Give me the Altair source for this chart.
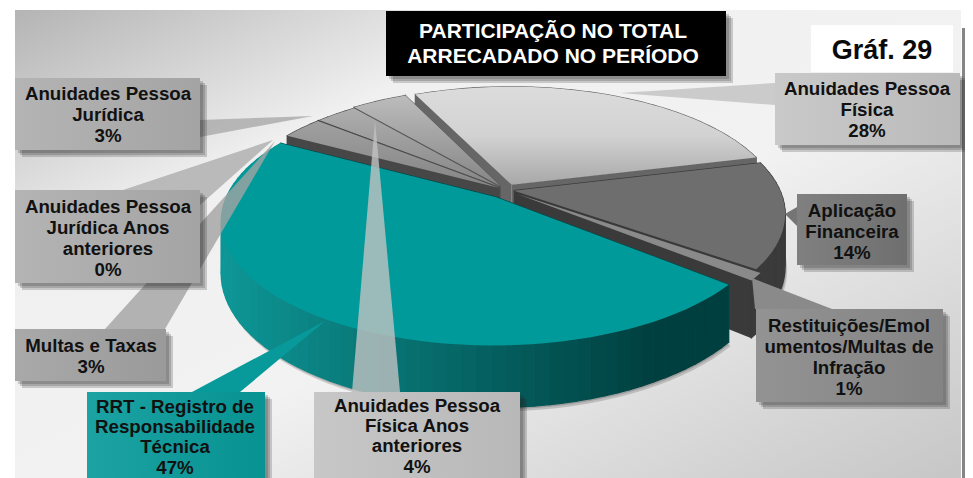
import math
import altair as alt

# ---------- chart values ----------
categories = ["Anuidades Pessoa Física", "Aplicação Financeira",
              "Restituições/Emolumentos/Multas de Infração",
              "RRT - Registro de Responsabilidade Técnica", "Multas e Taxas",
              "Anuidades Pessoa Jurídica Anos anteriores",
              "Anuidades Pessoa Jurídica", "Anuidades Pessoa Física Anos anteriores"]
shares = [28, 14, 1, 47, 3, 0, 3, 4]
label_lines = [["Anuidades Pessoa", "Física"], ["Aplicação", "Financeira"],
               ["Restituições/Emol", "umentos/Multas de", "Infração"],
               ["RRT - Registro de", "Responsabilidade", "Técnica"], ["Multas e Taxas"],
               ["Anuidades Pessoa", "Jurídica Anos", "anteriores"],
               ["Anuidades Pessoa", "Jurídica"], ["Anuidades Pessoa", "Física Anos", "anteriores"]]
title_lines = ["PARTICIPAÇÃO  NO TOTAL", "ARRECADADO  NO PERÍODO"]
badge = "Gráf. 29"

# ---------- pie styling ----------
START = 335
CX, CY, RX, RY, K, DEPTH = 506, 190, 266, 118, 0.186, 50
explode = [.05, .03, .05, .07, .03, .03, .03, .04]
top_fill = ["#d4d4d4", "#6e6e6e", "#8a8a8a", "#009a9a", "#a0a0a0", "#949494", "#aeaeae", "#bcbcbc"]
wall_fill = ["#666666", "#3a3a3a", "#3a3a3a", "#004a4a", "#474747", "#555555", "#555555", "#5a5a5a"]
draw_order = [0, 7, 6, 5, 4, 1, 2, 3]

# ---------- annotation layout (x0, x1, y0, y1, fill, text x, first line y, line step) ----------
W_, H_ = 965, 478
boxes = [
    (775, 960, 73, 145, "#c4c4c4", 867, 89, 21), (797, 907, 194, 265, "#757575", 852, 211, 21),
    (756, 943, 309, 402, "#8a8a8a", 849, 326, 21), (87, 265, 392, 478, "#089a9a", 175, 407, 20.2),
    (15, 166, 329, 381, "#a2a2a2", 91, 346, 21), (15, 200, 190, 283, "#adadad", 108, 207, 21),
    (15, 200, 78, 150, "#adadad", 108, 94, 21), (314, 520, 392, 478, "#c2c2c2", 417, 406, 20.2),
]
leaders = [
    [(775, 83), (620, 93), (775, 105)], [(797, 207), (785, 214), (797, 226)],
    [(755, 309), (752, 278), (832, 309)], [(192, 392), (325, 321), (240, 392)],
    [(105, 329), (275, 141), (165, 329)], [(123, 190), (273, 140), (200, 205)],
    [(200, 120), (313, 116), (200, 137)], [(352, 392), (375, 121), (400, 392)],
]
wedge_opacity = [.85, 1, 1, 1, .8, .8, .85, .8]
paint_order = [0, 1, 2, 3, 4, 5, 6, 7]

X = alt.Scale(domain=[8, W_], range=[0, W_ - 8])
Y = alt.Scale(domain=[8, H_], range=[0, H_ - 8])


def proj(theta, r, ex=0.0, ey=0.0, z=0.0):
    t = math.radians(theta)
    u, v = r * math.sin(t) + ex, r * math.cos(t) + ey
    w = 1 + K * v
    return CX + RX * u / w, CY - RY * v / w + z * DEPTH / w


def mix(a, b, f):
    pa = [int(a[i:i + 2], 16) for i in (1, 3, 5)]
    pb = [int(b[i:i + 2], 16) for i in (1, 3, 5)]
    return "#" + "".join(f"{round(p + (q - p) * f):02x}" for p, q in zip(pa, pb))


def rows(pid, pts, color=None):
    return [{"id": pid, "i": i, "x": p[0], "y": min(p[1], H_), "c": color} for i, p in enumerate(pts)]


def poly(data, **mk):
    return alt.Chart(alt.Data(values=data)).mark_line(strokeWidth=0, **mk).encode(
        x=alt.X("x:Q", scale=X, axis=None), y=alt.Y("y:Q", scale=Y, axis=None),
        order="i:Q", detail="id:N")


def multi(data):
    return alt.Chart(alt.Data(values=data)).mark_line(strokeWidth=1.2).encode(
        x=alt.X("x:Q", scale=X, axis=None), y=alt.Y("y:Q", scale=Y, axis=None),
        order="i:Q", detail="id:N",
        fill=alt.Fill("c:N", scale=None), stroke=alt.Stroke("c:N", scale=None))


def rect(x0, x1, y0, y1, fill, opacity=1.0):
    d = [{"x": x0, "x2": x1, "y": y0, "y2": min(y1, H_)}]
    return alt.Chart(alt.Data(values=d)).mark_rect(fill=fill, opacity=opacity).encode(
        x=alt.X("x:Q", scale=X, axis=None), x2="x2:Q",
        y=alt.Y("y:Q", scale=Y, axis=None), y2="y2:Q")


def text(s, x, y, size, color="#111111"):
    d = [{"t": s, "x": x, "y": y}]
    return alt.Chart(alt.Data(values=d)).mark_text(
        font="Liberation Sans", fontWeight="bold", fontSize=size, color=color, baseline="middle",
        align="center").encode(x=alt.X("x:Q", scale=X, axis=None), y=alt.Y("y:Q", scale=Y, axis=None), text="t:N")


def grad(stops, x1=0, y1=0, x2=0, y2=1):
    return alt.LinearGradient(gradient="linear", x1=x1, y1=y1, x2=x2, y2=y2,
                              stops=[alt.GradientStop(offset=o, color=c) for o, c in stops])


layers = []
# frame and panel
layers.append(rect(962, 973, 28, 478, "#858585"))
layers.append(rect(15, 961, 10, 478, grad(
    [(0, "#b4b4b4"), (.28, "#f0f0f0"), (.55, "#f2f2f2"), (1, "#c6c6c6")], x2=1, y2=1)))

# slice angles
angles, a = [], START
for s in shares:
    angles.append((a, a + s * 3.6))
    a += s * 3.6

# soft shadow below the front slices
for n in (1, 3):
    a0, a1 = angles[n]
    mid = math.radians((a0 + a1) / 2)
    ex, ey = explode[n] * math.sin(mid), explode[n] * math.cos(mid)
    for off in (2, 4):
        pts = [proj(a0 + (a1 - a0) * j / 60, 1, ex, ey, 1) for j in range(61)]
        pts = [(p[0] + off / 2, p[1] + off) for p in pts] + [proj(a0, 0, ex, ey, 0)]
        layers.append(poly(rows(f"s{n}{off}", pts), fill="#000000", opacity=.16))

for n in draw_order:
    a0, a1 = angles[n]
    mid = math.radians((a0 + a1) / 2)
    ex, ey = explode[n] * math.sin(mid), explode[n] * math.cos(mid)
    data = []
    apex, apex_low = proj(a0, 0, ex, ey, 0), proj(a0, 0, ex, ey, 1)
    for tag, ang in (("a", a0), ("b", a1)):
        pts = [apex, proj(ang, 1, ex, ey, 0), proj(ang, 1, ex, ey, 1), apex_low]
        data += rows(f"w{n}{tag}", pts, wall_fill[n])
    steps = max(2, int((a1 - a0) / 2.5))
    for j in range(steps):
        t0 = a0 + (a1 - a0) * j / steps
        t1 = a0 + (a1 - a0) * (j + 1) / steps
        pts = [proj(t0, 1, ex, ey, 0), proj(t1, 1, ex, ey, 0), proj(t1, 1, ex, ey, 1), proj(t0, 1, ex, ey, 1)]
        if n == 3:  # the teal rim darkens from left to right
            f = (pts[0][0] - 225) / 500
            col = mix("#0e9696", "#003f3f", min(1, max(0, f * 1.15)))
        else:
            col = wall_fill[n]
        data += rows(f"r{n}_{j}", pts, col)
    layers.append(multi(data))
    face = [apex] + [proj(a0 + (a1 - a0) * j / steps, 1, ex, ey, 0) for j in range(steps + 1)]
    fill = top_fill[n]
    if n == 0:
        fill = grad([(0, "#dcdcdc"), (.5, "#d2d2d2"), (1, "#a8a8a8")])
    elif n in (7, 6, 5, 4):
        fill = grad([(0, top_fill[n]), (1, "#858585")])
    layers.append(poly(rows(f"f{n}", face), fill=fill))

# callout wedges, boxes with blurred-looking shadows, labels
for n in paint_order:
    x0, x1, y0, y1, fill, tx, ty, step = boxes[n]
    layers.append(poly(rows(f"l{n}", leaders[n]), fill=fill, opacity=wedge_opacity[n]))
for n in paint_order:
    x0, x1, y0, y1, fill, tx, ty, step = boxes[n]
    for off in (3, 5, 7):
        layers.append(rect(x0 + off, x1 + off, y0 + off, y1 + off, "#222222", .2))
    box_fill = grad([(0, mix(fill, "#ffffff", .08)), (1, mix(fill, "#000000", .05))], x2=1, y2=0)
    layers.append(rect(x0, x1, y0, y1, box_fill))
    for j, line in enumerate(label_lines[n] + [f"{shares[n]}%"]):
        layers.append(text(line, tx, ty + j * step, 18.7))

for off in (3, 5, 7):
    layers.append(rect(386 + off, 726 + off, 11 + off, 76 + off, "#222222", .2))
layers.append(rect(386, 726, 11, 76, "#000000"))
for j, line in enumerate(title_lines):
    layers.append(text(line, 553, 32 + j * 25, 21, "#ffffff"))
layers.append(rect(811, 953, 25, 72, "#ffffff"))
layers.append(text(badge, 882, 51, 27, "#0a0a0a"))

chart = alt.layer(*layers).properties(
    width=W_ - 8, height=H_ - 8, padding=0, autosize=alt.AutoSizeParams(type="none")
).configure_view(stroke=None)
chart.save("out.html", embed_options={"renderer": "svg", "actions": False})
